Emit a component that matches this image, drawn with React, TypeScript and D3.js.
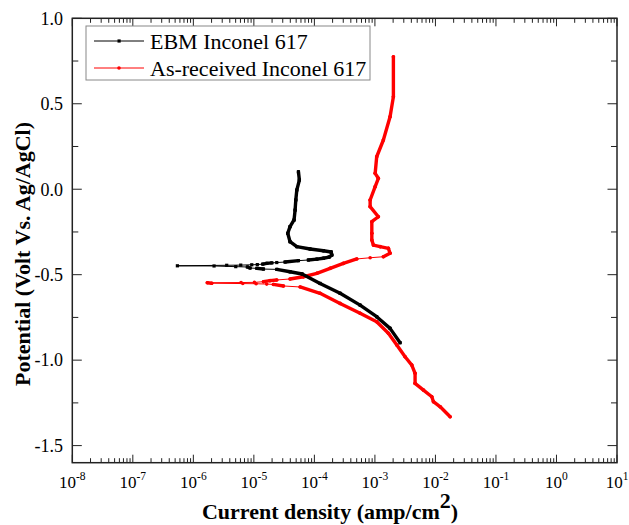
import React from "react";
import * as d3 from "d3";

// EBM Inconel 617: sweep from cathodic end, through Ecorr, up the anodic branch
const ebmCurrent = [
  2.61e-3, 1.78e-3, 1.07e-3, 5.69e-4, 2.66e-4, 1.24e-4, 6.27e-5, 3.96e-5, 2.39e-5, 1.44e-5,
  1.12e-5, 8.65e-6, 7.82e-6, 5.02e-6, 2.2e-6, 5.45e-7,
  3.56e-6, 6.07e-6, 9.23e-6, 1.14e-5, 1.4e-5, 1.63e-5, 1.98e-5, 2.39e-5, 3.28e-5, 5.45e-5,
  7.96e-5, 1.1e-4, 1.41e-4, 1.75e-4, 1.94e-4, 1.89e-4, 1.41e-4, 8.49e-5, 5.12e-5, 3.96e-5,
  3.63e-5, 3.96e-5, 4.61e-5, 4.8e-5, 4.93e-5, 5.12e-5, 5.65e-5, 5.45e-5
];
const ebmPotential = [
  -0.898, -0.814, -0.746, -0.678, -0.609, -0.551, -0.496, -0.483, -0.469, -0.467,
  -0.463, -0.461, -0.455, -0.453, -0.449, -0.448,
  -0.445, -0.444, -0.442, -0.441, -0.438, -0.434, -0.431, -0.429, -0.426, -0.418,
  -0.414, -0.409, -0.404, -0.397, -0.385, -0.367, -0.36, -0.35, -0.336, -0.307,
  -0.258, -0.219, -0.18, -0.122, -0.063, -0.005, 0.054, 0.102
];

// As-received Inconel 617
const asrCurrent = [
  1.75e-2, 1.2e-2, 9.27e-3, 8.71e-3, 6.34e-3, 4.61e-3, 4.61e-3, 4.07e-3, 3.15e-3, 2.3e-3,
  1.67e-3, 1.07e-3, 5.69e-4, 2.66e-4, 1.24e-4, 5.81e-5, 3.08e-5, 2.1e-5, 1.63e-5, 1.09e-5,
  6.56e-6, 2.01e-6, 1.7e-6,
  6.14e-6, 1.02e-5, 1.44e-5, 1.85e-5, 2.39e-5, 3.96e-5, 6.58e-5, 1.1e-4, 1.82e-4, 3.01e-4,
  5.02e-4, 8.34e-4, 1.38e-3, 1.78e-3, 1.67e-3, 1.22e-3, 9.44e-4, 8.89e-4, 8.89e-4, 8.89e-4,
  1.14e-3, 8.34e-4, 8.34e-4, 1.01e-3, 1.14e-3, 1.01e-3, 1.07e-3, 1.38e-3, 1.78e-3, 2.02e-3,
  2.02e-3
];
const asrPotential = [
  -1.331, -1.273, -1.243, -1.214, -1.175, -1.136, -1.077, -1.029, -0.98, -0.912,
  -0.843, -0.775, -0.726, -0.668, -0.609, -0.572, -0.566, -0.557, -0.555, -0.553,
  -0.552, -0.55, -0.547,
  -0.546, -0.545, -0.541, -0.535, -0.531, -0.525, -0.512, -0.492, -0.463, -0.434,
  -0.408, -0.401, -0.395, -0.375, -0.346, -0.336, -0.327, -0.297, -0.258, -0.19,
  -0.161, -0.102, -0.063, 0.015, 0.064, 0.093, 0.19, 0.288, 0.424, 0.541,
  0.775
];

const seriesNames = ["EBM Inconel 617", "As-received Inconel 617"];
const xMajorExp = [-8, -7, -6, -5, -4, -3, -2, -1, 0, 1];
const yMajor = [-1.5, -1.0, -0.5, 0.0, 0.5, 1.0];
const yMinor = [-1.25, -0.75, -0.25, 0.25, 0.75];

const font = "'Liberation Serif', 'Times New Roman', serif";

function App() {
  const w = 629,
    h = 525,
    left = 72.3,
    right = 617,
    top = 18.3,
    bottom = 462.7;

  const x = d3.scaleLog().domain([1e-8, 10]).range([left, right]);
  const y = d3.scaleLinear().domain([-1.6, 1.0]).range([bottom, top]);

  const xMinor: number[] = [];
  xMajorExp.slice(0, -1).forEach(e => {
    for (let k = 2; k <= 9; k++) xMinor.push(k * Math.pow(10, e));
  });

  // markers are dense where the potential step (about 2 mV) packs points closely
  function curve(cur: number[], pot: number[], color: string, square: boolean) {
    const pts = cur.map((c, i) => [x(c), y(pot[i]), pot[i]]);
    const segs = pts.slice(1).map((p, i) => {
      const q = pts[i];
      const len = Math.hypot(p[0] - q[0], p[1] - q[1]);
      const n = Math.max(Math.abs(p[2] - q[2]) / 0.002, 0.01);
      const dense = len / n < 3.5;
      return (
        <line
          key={i}
          x1={q[0]}
          y1={q[1]}
          x2={p[0]}
          y2={p[1]}
          stroke={color}
          strokeWidth={dense ? 3.4 : 1}
          strokeLinecap="round"
        />
      );
    });
    const marks = pts.map((p, i) =>
      square ? (
        <rect key={i} x={p[0] - 1.6} y={p[1] - 1.6} width={3.2} height={3.2} fill={color} />
      ) : (
        <circle key={i} cx={p[0]} cy={p[1]} r={1.8} fill={color} />
      )
    );
    return (
      <g>
        {segs}
        {marks}
      </g>
    );
  }

  const xTicks = [
    ...xMajorExp.map(e => ({ v: Math.pow(10, e), len: 8 })),
    ...xMinor.map(v => ({ v, len: 4.5 }))
  ].map((t, i) => (
    <g key={i} stroke="#222" strokeWidth={1}>
      <line x1={x(t.v)} x2={x(t.v)} y1={bottom} y2={bottom - t.len} />
      <line x1={x(t.v)} x2={x(t.v)} y1={top} y2={top + t.len} />
    </g>
  ));

  const yTicks = [
    ...yMajor.map(v => ({ v, len: 9.5 })),
    ...yMinor.map(v => ({ v, len: 6 }))
  ].map((t, i) => (
    <g key={i} stroke="#222" strokeWidth={1}>
      <line x1={left} x2={left + t.len} y1={y(t.v)} y2={y(t.v)} />
      <line x1={right} x2={right - t.len} y1={y(t.v)} y2={y(t.v)} />
    </g>
  ));

  const xLabels = xMajorExp.map(e => (
    <text
      key={e}
      x={x(Math.pow(10, e))}
      y={488}
      textAnchor="middle"
      fontSize={17}
      fontFamily={font}
    >
      10
      <tspan fontSize={11.5} dy={-8}>
        {e}
      </tspan>
    </text>
  ));

  const yLabels = yMajor.map(v => (
    <text
      key={v}
      x={63}
      y={y(v)}
      dy="0.35em"
      textAnchor="end"
      fontSize={18}
      fontFamily={font}
    >
      {v.toFixed(1)}
    </text>
  ));

  const legendRows = seriesNames.map((name, i) => {
    const ly = 41 + i * 27;
    const color = i === 0 ? "#000" : "#ff0000";
    return (
      <g key={name}>
        <line x1={94} x2={144} y1={ly} y2={ly} stroke={color} strokeWidth={1} />
        {i === 0 ? (
          <rect x={117.5} y={ly - 1.6} width={3.2} height={3.2} fill={color} />
        ) : (
          <circle cx={119} cy={ly} r={1.8} fill={color} />
        )}
        <text x={150} y={ly + 7.5} fontSize={22} fontFamily={font}>
          {name}
        </text>
      </g>
    );
  });

  return (
    <svg
      width={w}
      height={h}
      style={{ position: "absolute", left: 0, top: 0, background: "#fff" }}
    >
      <rect x={0} y={0} width={w} height={h} fill="#fff" />
      {curve(asrCurrent, asrPotential, "#ff0000", false)}
      {curve(ebmCurrent, ebmPotential, "#000", true)}
      {xTicks}
      {yTicks}
      <rect
        x={left}
        y={top}
        width={right - left}
        height={bottom - top}
        fill="none"
        stroke="#222"
        strokeWidth={1.5}
      />
      {xLabels}
      {yLabels}
      <g>
        <rect x={86} y={26} width={284} height={54} fill="#fff" stroke="#888" strokeWidth={1} />
        {legendRows}
      </g>
      <text
        x={330}
        y={519}
        textAnchor="middle"
        fontSize={22}
        fontWeight="bold"
        fontFamily={font}
      >
        Current density (amp/cm
        <tspan fontSize={22} dy={-11}>2</tspan>
        <tspan dy={11}>)</tspan>
      </text>
      <text
        transform={`translate(30,${254}) rotate(-90)`}
        textAnchor="middle"
        fontSize={22}
        fontWeight="bold"
        fontFamily={font}
      >
        Potential (Volt Vs. Ag/AgCl)
      </text>
    </svg>
  );
}

export default App;
